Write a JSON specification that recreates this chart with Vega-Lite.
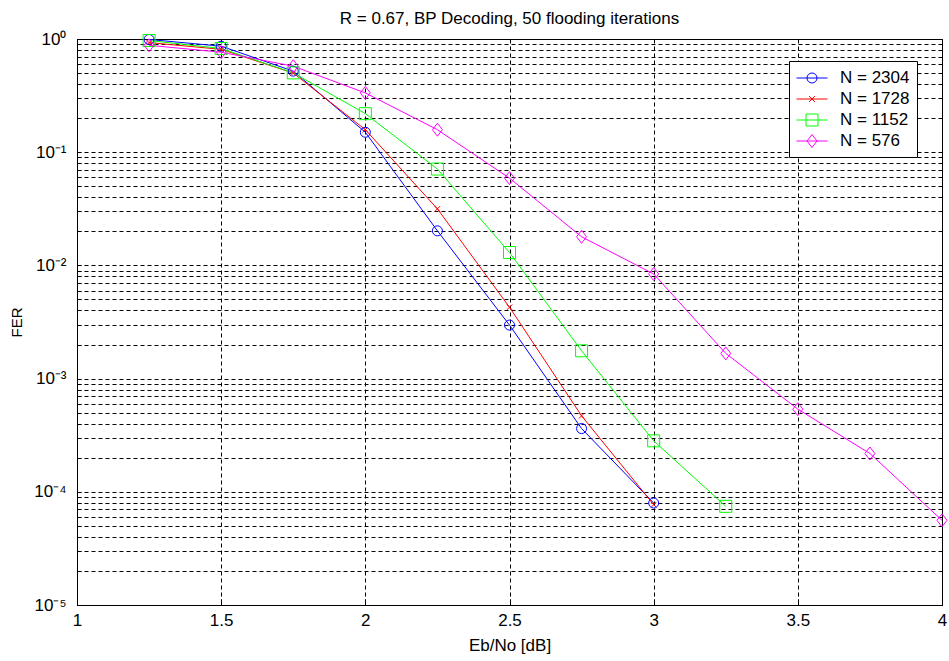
{
  "$schema": "https://vega.github.io/schema/vega-lite/v6.json",
  "autosize": {"type": "none"},
  "padding": {"left": 77, "top": 39, "right": 7, "bottom": 56},
  "width": 865,
  "height": 566,
  "background": "#ffffff",
  "title": {"text": "R = 0.67, BP Decoding, 50 flooding iterations", "fontSize": 17, "fontWeight": "normal", "font": "Liberation Sans", "color": "#000", "offset": 2, "anchor": "middle"},
  "config": {
    "view": {"stroke": "#000", "strokeWidth": 1},
    "axis": {"labelFont": "Liberation Sans", "titleFont": "Liberation Sans", "labelColor": "#000", "titleColor": "#000", "titleFontWeight": "normal", "domainColor": "#000", "tickColor": "#000", "gridColor": "#000", "gridOpacity": 1, "gridDash": [4, 3], "gridWidth": 1}
  },
  "data": {"values": [
    {"ebno": 1.25, "fer": 0.99, "series": "N = 2304"},
    {"ebno": 1.5, "fer": 0.864, "series": "N = 2304"},
    {"ebno": 1.75, "fer": 0.52, "series": "N = 2304"},
    {"ebno": 2.0, "fer": 0.150, "series": "N = 2304"},
    {"ebno": 2.25, "fer": 0.0202, "series": "N = 2304"},
    {"ebno": 2.5, "fer": 0.00297, "series": "N = 2304"},
    {"ebno": 2.75, "fer": 0.000362, "series": "N = 2304"},
    {"ebno": 3.0, "fer": 0.0000796, "series": "N = 2304"},
    {"ebno": 1.25, "fer": 0.93, "series": "N = 1728"},
    {"ebno": 1.5, "fer": 0.81, "series": "N = 1728"},
    {"ebno": 1.75, "fer": 0.50, "series": "N = 1728"},
    {"ebno": 2.0, "fer": 0.158, "series": "N = 1728"},
    {"ebno": 2.25, "fer": 0.0316, "series": "N = 1728"},
    {"ebno": 2.5, "fer": 0.00427, "series": "N = 1728"},
    {"ebno": 2.75, "fer": 0.000469, "series": "N = 1728"},
    {"ebno": 3.0, "fer": 0.000077, "series": "N = 1728"},
    {"ebno": 1.25, "fer": 0.97, "series": "N = 1152"},
    {"ebno": 1.5, "fer": 0.824, "series": "N = 1152"},
    {"ebno": 1.75, "fer": 0.502, "series": "N = 1152"},
    {"ebno": 2.0, "fer": 0.219, "series": "N = 1152"},
    {"ebno": 2.25, "fer": 0.071, "series": "N = 1152"},
    {"ebno": 2.5, "fer": 0.0130, "series": "N = 1152"},
    {"ebno": 2.75, "fer": 0.00176, "series": "N = 1152"},
    {"ebno": 3.0, "fer": 0.000282, "series": "N = 1152"},
    {"ebno": 3.25, "fer": 0.0000744, "series": "N = 1152"},
    {"ebno": 1.25, "fer": 0.88, "series": "N = 576"},
    {"ebno": 1.5, "fer": 0.764, "series": "N = 576"},
    {"ebno": 1.75, "fer": 0.575, "series": "N = 576"},
    {"ebno": 2.0, "fer": 0.334, "series": "N = 576"},
    {"ebno": 2.25, "fer": 0.158, "series": "N = 576"},
    {"ebno": 2.5, "fer": 0.059, "series": "N = 576"},
    {"ebno": 2.75, "fer": 0.0179, "series": "N = 576"},
    {"ebno": 3.0, "fer": 0.0084, "series": "N = 576"},
    {"ebno": 3.25, "fer": 0.00167, "series": "N = 576"},
    {"ebno": 3.5, "fer": 0.000537, "series": "N = 576"},
    {"ebno": 3.75, "fer": 0.000218, "series": "N = 576"},
    {"ebno": 4.0, "fer": 0.000056, "series": "N = 576"}
  ]},
  "encoding": {
    "x": {"field": "ebno", "type": "quantitative",
      "scale": {"domain": [1, 4], "nice": false, "zero": false},
      "axis": {"title": "Eb/No [dB]", "titleFontSize": 17, "labelFontSize": 17, "titlePadding": 9, "labelPadding": 13, "ticks": true, "tickSize": -6,
        "values": [1, 1.5, 2, 2.5, 3, 3.5, 4], "labelExpr": "'' + datum.value", "grid": true, "labelFlush": false}},
    "y": {"field": "fer", "type": "quantitative",
      "scale": {"type": "log", "domain": [0.00001, 1], "nice": false},
      "axis": {"title": "FER", "titleFontSize": 15, "labelFontSize": 17, "titlePadding": 9, "labelPadding": 15, "ticks": true, "tickSize": -4, "grid": true, "labelOverlap": false, "labelBound": false, "labelFlush": false,
        "values": [0.00001, 0.00002, 0.00003, 0.00004, 0.00005, 0.00006, 0.00007, 0.00008, 0.00009,
                   0.0001, 0.0002, 0.0003, 0.0004, 0.0005, 0.0006, 0.0007, 0.0008, 0.0009,
                   0.001, 0.002, 0.003, 0.004, 0.005, 0.006, 0.007, 0.008, 0.009,
                   0.01, 0.02, 0.03, 0.04, 0.05, 0.06, 0.07, 0.08, 0.09,
                   0.1, 0.2, 0.3, 0.4, 0.5, 0.6, 0.7, 0.8, 0.9, 1],
        "labelExpr": "indexof([1, 0.1, 0.01, 0.001, 0.0001, 0.00001], datum.value) >= 0 ? ['10⁰', '10⁻¹', '10⁻²', '10⁻³', '10⁻⁴', '10⁻⁵'][indexof([1, 0.1, 0.01, 0.001, 0.0001, 0.00001], datum.value)] : ''"}},
    "color": {"field": "series", "type": "nominal",
      "scale": {"domain": ["N = 2304", "N = 1728", "N = 1152", "N = 576"], "range": ["#0000ff", "#ff0000", "#00ff00", "#ff00ff"]},
      "legend": {"title": null, "orient": "none", "legendX": 712, "legendY": 22, "strokeColor": "#000", "fillColor": "#fff", "padding": 7, "rowPadding": 3,
        "labelFont": "Liberation Sans", "labelFontSize": 17, "labelColor": "#000", "labelOffset": 12, "symbolSize": 961, "symbolStrokeWidth": 1,
        "encode": {
          "symbols": {"update": {
            "shape": {"signal": "datum.value === 'N = 2304' ? 'M-1,0H1M0.323,0A0.323,0.323 0 1,1 -0.323,0A0.323,0.323 0 1,1 0.323,0' : datum.value === 'N = 1728' ? 'M-1,0H1M-0.19,-0.19L0.19,0.19M-0.19,0.19L0.19,-0.19' : datum.value === 'N = 1152' ? 'M-1,0H1M-0.387,-0.387H0.387V0.387H-0.387Z' : 'M-1,0H1M0,-0.42L0.323,0L0,0.42L-0.323,0Z'"},
            "fill": {"value": "transparent"},
            "strokeWidth": {"value": 1},
            "opacity": {"value": 1},
            "y": {"value": 10}
          }},
          "labels": {"update": {"y": {"value": 10}}}
        }}}
  },
  "layer": [
    {"mark": {"type": "line", "strokeWidth": 1}},
    {"transform": [{"filter": "datum.series === 'N = 2304'"}],
     "mark": {"type": "point", "shape": "circle", "size": 100, "filled": false, "strokeWidth": 1, "opacity": 1}},
    {"transform": [{"filter": "datum.series === 'N = 1728'"}],
     "mark": {"type": "point", "shape": "M-1,-1L1,1M-1,1L1,-1", "size": 30, "filled": false, "strokeWidth": 1, "opacity": 1}},
    {"transform": [{"filter": "datum.series === 'N = 1152'"}],
     "mark": {"type": "point", "shape": "square", "size": 144, "filled": false, "strokeWidth": 1, "opacity": 1}},
    {"transform": [{"filter": "datum.series === 'N = 576'"}],
     "mark": {"type": "point", "shape": "M0,-1.3L1,0L0,1.3L-1,0Z", "size": 100, "filled": false, "strokeWidth": 1, "opacity": 1}}
  ]
}
